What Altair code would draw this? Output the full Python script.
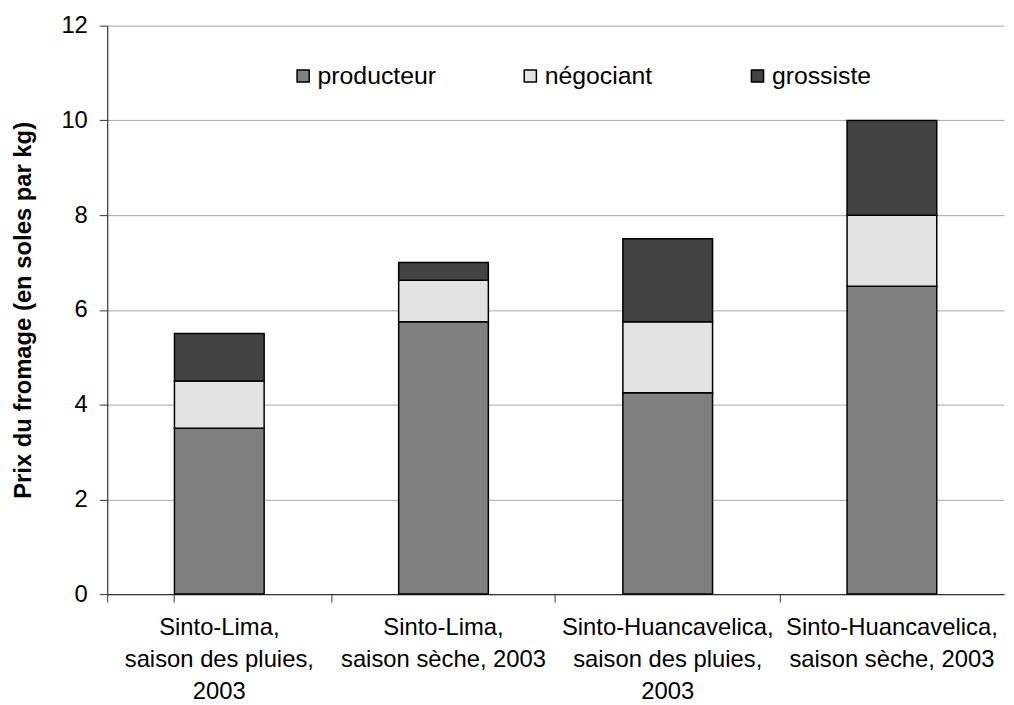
import altair as alt
import pandas as pd

categories = [
    "Sinto-Lima,|saison des pluies,|2003",
    "Sinto-Lima,|saison sèche, 2003",
    "Sinto-Huancavelica,|saison des pluies,|2003",
    "Sinto-Huancavelica,|saison sèche, 2003",
]
series = ["producteur", "négociant", "grossiste"]
producteur = [3.5, 5.75, 4.25, 6.5]
negociant = [1.0, 0.875, 1.5, 1.5]
grossiste = [1.0, 0.375, 1.75, 2.0]
colors = ["#808080", "#e3e3e3", "#434343"]
y_ticks = [0, 2, 4, 6, 8, 10, 12]

rows = []
for s_i, (name, vals) in enumerate(zip(series, [producteur, negociant, grossiste])):
    for c, v in zip(categories, vals):
        rows.append({"cat": c, "serie": name, "val": v, "ord": s_i})
df = pd.DataFrame(rows)

FONT = "Liberation Sans"

chart = alt.Chart(df).mark_bar(stroke="black", strokeWidth=1.5).encode(
    x=alt.X(
        "cat:N",
        sort=categories,
        title=None,
        scale=alt.Scale(paddingInner=0.6, paddingOuter=0.3),
        axis=alt.Axis(
            labelExpr="split(datum.label, '|')",
            labelAngle=0,
            labelFontSize=24,
            labelLineHeight=32,
            labelPadding=14,
            labelOverlap=False,
            labelLimit=0,
            labelColor="black",
            tickExtra=True,
            bandPosition=-0.75,
            tickSize=8,
            tickColor="#333333",
            domainColor="#333333",
            domainWidth=1.2,
            grid=False,
        ),
    ),
    y=alt.Y(
        "val:Q",
        stack="zero",
        scale=alt.Scale(domain=[0, 12], nice=False),
        title="Prix du fromage (en soles par kg)",
        axis=alt.Axis(
            values=y_ticks,
            labelFontSize=24,
            labelPadding=12,
            labelColor="black",
            tickSize=8,
            tickColor="#333333",
            domainColor="#333333",
            domainWidth=1.2,
            gridColor="#a6a6a6",
            gridWidth=1,
            titleFontSize=24,
            titleFontWeight="bold",
            titleColor="black",
            titlePadding=26,
        ),
    ),
    color=alt.Color(
        "serie:N",
        sort=series,
        scale=alt.Scale(domain=series, range=colors),
        legend=alt.Legend(
            title=None,
            orient="none",
            direction="horizontal",
            legendX=185,
            legendY=38,
            symbolType="square",
            symbolSize=150,
            symbolStrokeColor="black",
            symbolStrokeWidth=1.5,
            symbolOpacity=1,
            labelFontSize=25,
            labelColor="black",
            labelOffset=2,
            columnPadding=82,
            gridAlign="all",
        ),
    ),
    order=alt.Order("ord:Q", sort="ascending"),
).properties(
    width=904,
    height=573,
    padding={"left": 100, "top": 15, "right": 2, "bottom": 110},
    autosize=alt.AutoSizeParams(type="none"),
).configure(
    font=FONT,
).configure_view(
    stroke=None,
)

chart.save("out.html", embed_options={"renderer": "svg", "actions": False})
